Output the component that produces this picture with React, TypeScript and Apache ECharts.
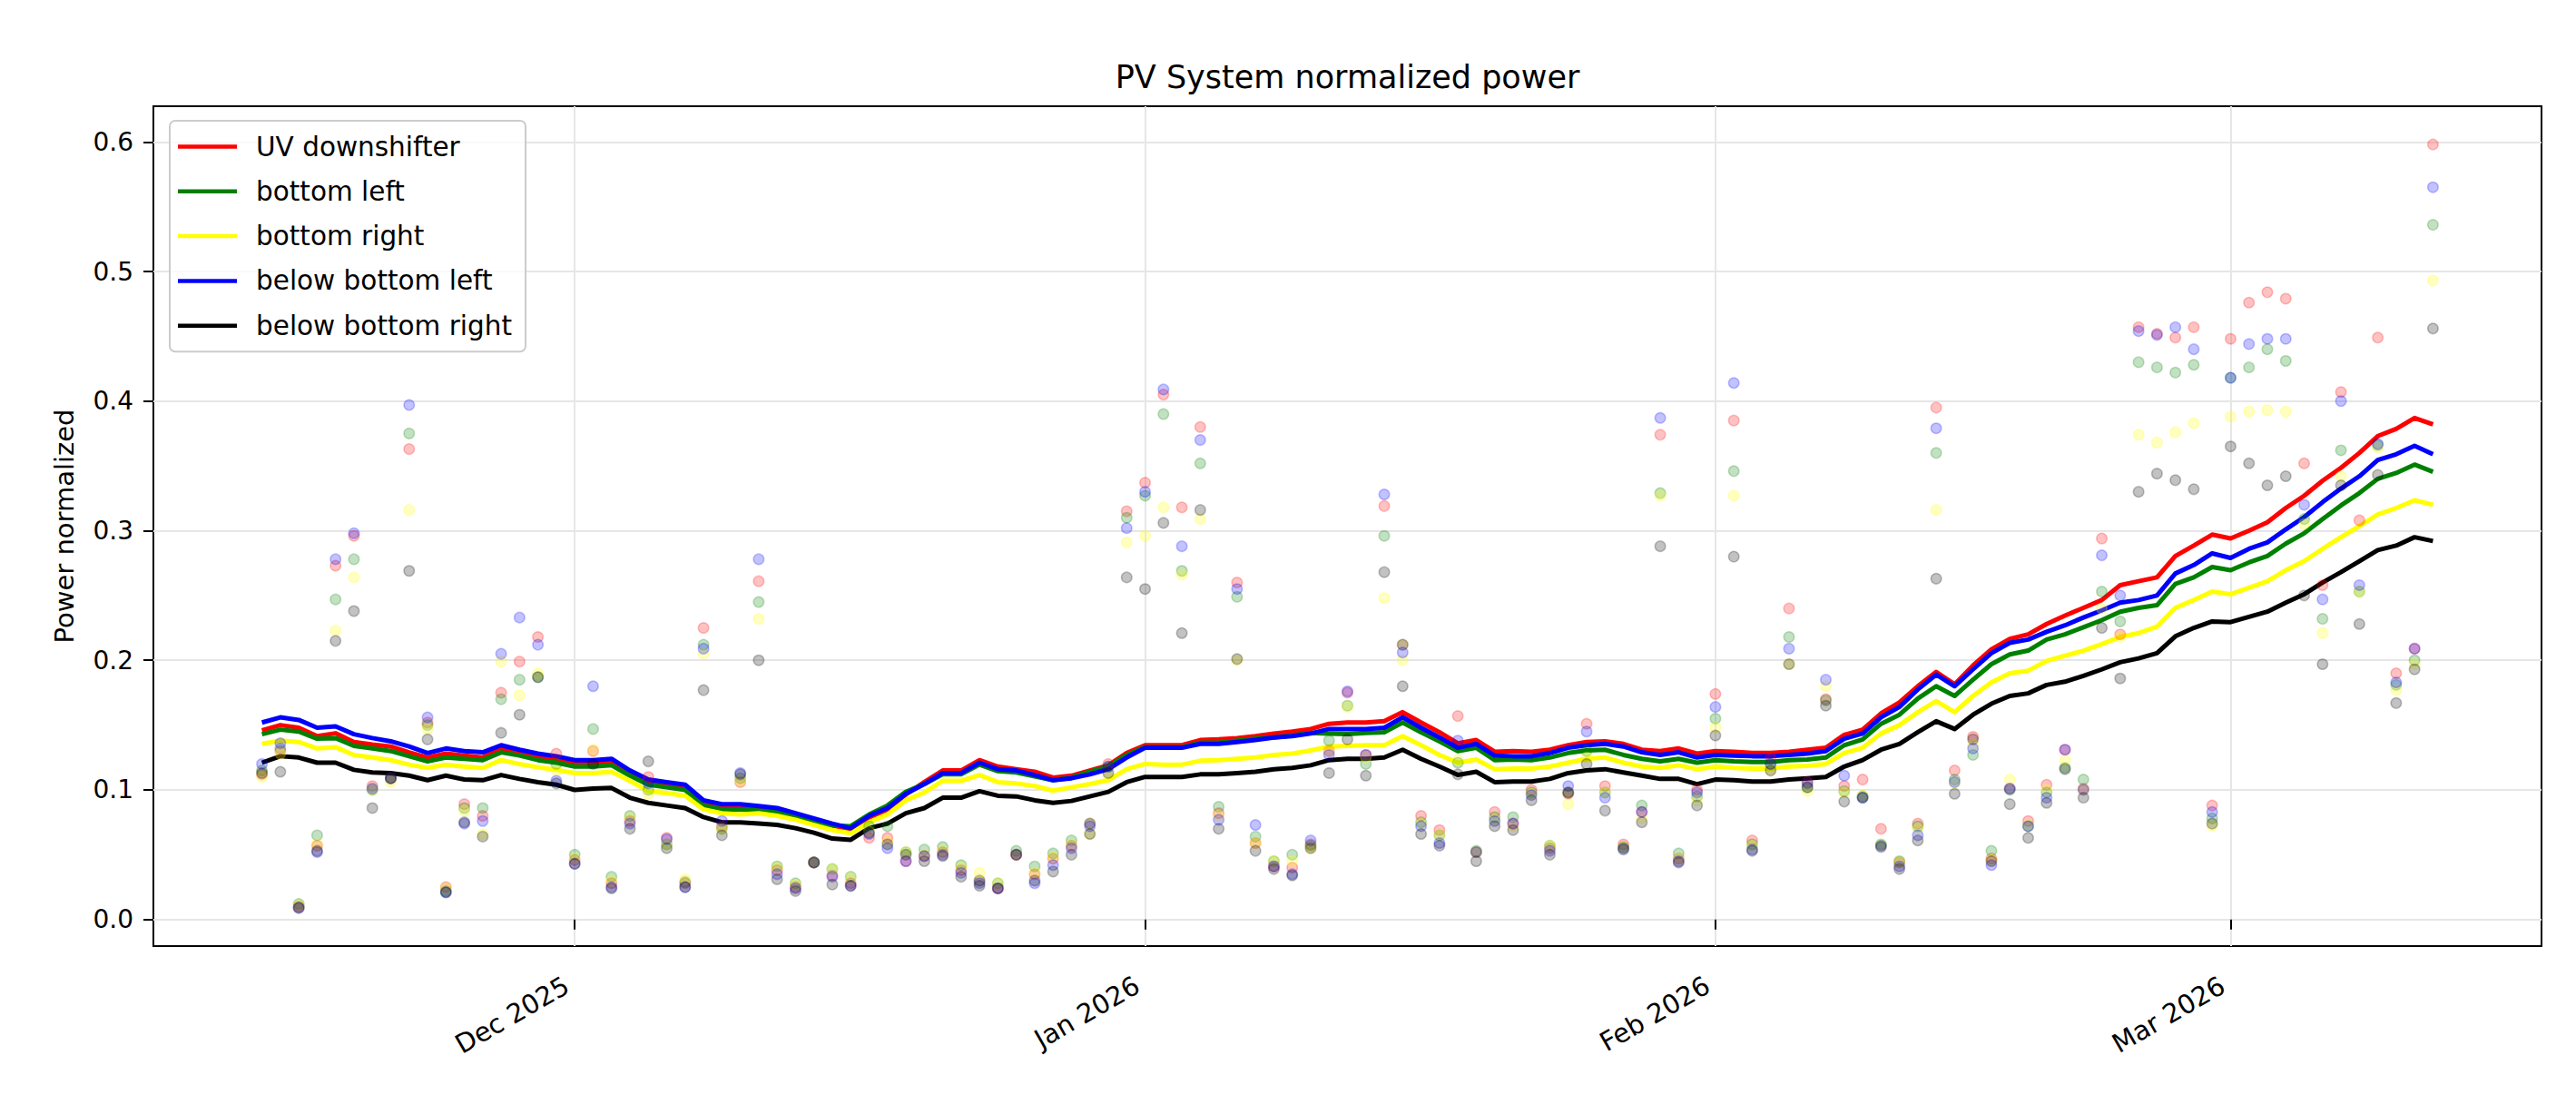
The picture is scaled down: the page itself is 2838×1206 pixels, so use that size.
import React, { useEffect, useRef } from "react";
import * as echarts from "echarts";

const FONT = '"DejaVu Sans", Verdana, sans-serif';

const SERIES_NAMES = ["UV downshifter", "bottom left", "bottom right", "below bottom left", "below bottom right"];
const SERIES_COLORS = ["#ff0000", "#008000", "#ffff00", "#0000ff", "#000000"];
const SCATTER_COLORS = ["rgba(255,0,0,0.3)", "rgba(0,128,0,0.3)", "rgba(255,255,0,0.3)", "rgba(0,0,255,0.3)", "rgba(0,0,0,0.3)"];

const TITLE = "PV System normalized power";
const Y_NAME = "Power normalized";

const X_TICK_LABELS = ["Dec 2025", "Jan 2026", "Feb 2026", "Mar 2026"];
const X_TICK_VALUES = [
  new Date(2025, 11, 1).getTime(),
  new Date(2026, 0, 1).getTime(),
  new Date(2026, 1, 1).getTime(),
  new Date(2026, 2, 1).getTime(),
];
const Y_TICK_VALUES = [0, 0.1, 0.2, 0.3, 0.4, 0.5, 0.6];
const Y_TICK_LABELS = ["0.0", "0.1", "0.2", "0.3", "0.4", "0.5", "0.6"];

// daily values, 2025-11-14 .. 2026-03-12
const RED_PTS = [
  0.112, 0.130, 0.010, 0.057, 0.273, 0.296, 0.103, 0.109, 0.363, 0.152,
  0.025, 0.089, 0.080, 0.175, 0.199, 0.218, 0.128, 0.046, 0.130, 0.028,
  0.076, 0.110, 0.063, 0.028, 0.225, 0.072, 0.106, 0.261, 0.038, 0.025,
  0.044, 0.034, 0.028, 0.063, 0.063, 0.045, 0.049, 0.052, 0.038, 0.030,
  0.024, 0.050, 0.035, 0.047, 0.057, 0.074, 0.120, 0.315, 0.337, 0.405,
  0.318, 0.380, 0.082, 0.260, 0.059, 0.041, 0.040, 0.058, 0.130, 0.175,
  0.127, 0.319, 0.212, 0.080, 0.069, 0.157, 0.052, 0.083, 0.074, 0.100,
  0.055, 0.097, 0.151, 0.103, 0.058, 0.083, 0.374, 0.047, 0.100, 0.174,
  0.385, 0.061, 0.125, 0.240, 0.106, 0.170, 0.103, 0.108, 0.070, 0.044,
  0.074, 0.395, 0.115, 0.141, 0.047, 0.101, 0.076, 0.104, 0.131, 0.101,
  0.294, 0.220, 0.457, 0.452, 0.449, 0.457, 0.088, 0.448, 0.476, 0.484,
  0.479, 0.352, 0.258, 0.407, 0.308, 0.449, 0.190, 0.209, 0.598,
];
const GREEN_PTS = [
  0.115, 0.132, 0.012, 0.065, 0.247, 0.278, 0.100, 0.109, 0.375, 0.150,
  0.022, 0.086, 0.086, 0.170, 0.185, 0.187, 0.120, 0.050, 0.147, 0.033,
  0.080, 0.100, 0.058, 0.029, 0.212, 0.070, 0.109, 0.245, 0.041, 0.028,
  0.044, 0.039, 0.033, 0.072, 0.072, 0.052, 0.054, 0.056, 0.042, 0.030,
  0.028, 0.053, 0.041, 0.051, 0.061, 0.074, 0.118, 0.310, 0.327, 0.390,
  0.269, 0.352, 0.087, 0.249, 0.064, 0.045, 0.050, 0.057, 0.138, 0.165,
  0.120, 0.296, 0.212, 0.075, 0.065, 0.121, 0.053, 0.079, 0.079, 0.098,
  0.057, 0.098, 0.130, 0.098, 0.056, 0.088, 0.329, 0.051, 0.095, 0.155,
  0.346, 0.058, 0.120, 0.218, 0.102, 0.169, 0.099, 0.095, 0.058, 0.045,
  0.072, 0.360, 0.108, 0.127, 0.053, 0.100, 0.072, 0.098, 0.117, 0.108,
  0.253, 0.230, 0.430, 0.426, 0.422, 0.428, 0.078, 0.418, 0.426, 0.440,
  0.431, 0.309, 0.232, 0.362, 0.253, 0.366, 0.181, 0.200, 0.536,
];
const YELLOW_PTS = [
  0.110, 0.128, 0.011, 0.058, 0.223, 0.264, 0.100, 0.106, 0.316, 0.147,
  0.024, 0.084, 0.066, 0.199, 0.173, 0.190, 0.115, 0.047, 0.131, 0.030,
  0.078, 0.097, 0.058, 0.031, 0.205, 0.070, 0.107, 0.232, 0.040, 0.027,
  0.044, 0.039, 0.032, 0.068, 0.060, 0.052, 0.050, 0.053, 0.040, 0.036,
  0.028, 0.050, 0.036, 0.048, 0.058, 0.066, 0.110, 0.291, 0.296, 0.318,
  0.266, 0.309, 0.080, 0.200, 0.059, 0.045, 0.045, 0.055, 0.130, 0.164,
  0.125, 0.248, 0.200, 0.074, 0.065, 0.123, 0.052, 0.077, 0.072, 0.097,
  0.057, 0.089, 0.125, 0.098, 0.056, 0.078, 0.327, 0.047, 0.092, 0.148,
  0.327, 0.057, 0.115, 0.197, 0.099, 0.180, 0.098, 0.096, 0.058, 0.044,
  0.070, 0.316, 0.105, 0.135, 0.046, 0.108, 0.073, 0.100, 0.123, 0.100,
  0.240, 0.218, 0.374, 0.368, 0.376, 0.383, 0.072, 0.388, 0.392, 0.393,
  0.392, 0.305, 0.221, 0.342, 0.253, 0.364, 0.177, 0.197, 0.493,
];
const BLUE_PTS = [
  0.120, 0.136, 0.009, 0.052, 0.278, 0.298, 0.101, 0.109, 0.397, 0.156,
  0.021, 0.074, 0.076, 0.205, 0.233, 0.212, 0.107, 0.043, 0.180, 0.025,
  0.074, 0.105, 0.062, 0.025, 0.209, 0.076, 0.113, 0.278, 0.035, 0.024,
  0.044, 0.033, 0.026, 0.066, 0.055, 0.045, 0.049, 0.050, 0.036, 0.028,
  0.024, 0.050, 0.028, 0.042, 0.055, 0.072, 0.118, 0.302, 0.330, 0.409,
  0.288, 0.370, 0.077, 0.255, 0.073, 0.041, 0.035, 0.061, 0.127, 0.176,
  0.127, 0.328, 0.206, 0.072, 0.059, 0.138, 0.052, 0.076, 0.074, 0.096,
  0.053, 0.103, 0.145, 0.094, 0.055, 0.083, 0.387, 0.045, 0.098, 0.164,
  0.414, 0.054, 0.120, 0.209, 0.105, 0.185, 0.111, 0.094, 0.057, 0.041,
  0.065, 0.379, 0.106, 0.132, 0.042, 0.101, 0.072, 0.094, 0.131, 0.100,
  0.281, 0.250, 0.454, 0.451, 0.457, 0.440, 0.083, 0.418, 0.444, 0.448,
  0.448, 0.320, 0.247, 0.400, 0.258, 0.367, 0.183, 0.209, 0.565,
];
const BLACK_PTS = [
  0.113, 0.114, 0.009, 0.053, 0.215, 0.238, 0.086, 0.109, 0.269, 0.139,
  0.021, 0.075, 0.064, 0.144, 0.158, 0.187, 0.105, 0.043, 0.120, 0.024,
  0.070, 0.122, 0.055, 0.025, 0.177, 0.065, 0.112, 0.200, 0.031, 0.022,
  0.044, 0.027, 0.026, 0.067, 0.058, 0.050, 0.045, 0.049, 0.033, 0.026,
  0.024, 0.050, 0.030, 0.037, 0.050, 0.066, 0.113, 0.264, 0.255, 0.306,
  0.221, 0.316, 0.070, 0.201, 0.053, 0.039, 0.034, 0.055, 0.113, 0.139,
  0.111, 0.268, 0.180, 0.066, 0.057, 0.112, 0.045, 0.072, 0.069, 0.092,
  0.050, 0.098, 0.120, 0.084, 0.054, 0.075, 0.288, 0.044, 0.088, 0.142,
  0.280, 0.053, 0.115, 0.197, 0.102, 0.165, 0.091, 0.094, 0.056, 0.039,
  0.061, 0.263, 0.097, 0.139, 0.045, 0.089, 0.063, 0.090, 0.116, 0.094,
  0.225, 0.186, 0.330, 0.344, 0.339, 0.332, 0.074, 0.365, 0.352, 0.335,
  0.342, 0.250, 0.197, 0.335, 0.228, 0.343, 0.167, 0.193, 0.456,
];

// smoothed lines, same dates
const RED_LINE = [
  0.146, 0.150, 0.148, 0.1415, 0.1437, 0.137, 0.135, 0.1335, 0.129, 0.125,
  0.128, 0.1265, 0.125, 0.132, 0.1285, 0.126, 0.124, 0.121, 0.121, 0.122,
  0.113, 0.106, 0.104, 0.1025, 0.090, 0.087, 0.087, 0.086, 0.085, 0.081,
  0.0765, 0.0725, 0.0695, 0.0785, 0.085, 0.0965, 0.106, 0.115, 0.115, 0.123,
  0.118, 0.116, 0.114, 0.1095, 0.111, 0.115, 0.119, 0.1285, 0.1345, 0.1345,
  0.1345, 0.1385, 0.139, 0.140, 0.1415, 0.1435, 0.145, 0.147, 0.151, 0.152,
  0.152, 0.153, 0.160, 0.152, 0.1445, 0.136, 0.1385, 0.1295, 0.130, 0.1295,
  0.131, 0.1345, 0.137, 0.1375, 0.1355, 0.131, 0.130, 0.132, 0.128, 0.130,
  0.1295, 0.1285, 0.1285, 0.1295, 0.131, 0.1325, 0.1425, 0.1465, 0.159, 0.1675,
  0.180, 0.191, 0.1815, 0.196, 0.2085, 0.2165, 0.220, 0.228, 0.2345, 0.2405,
  0.2465, 0.258, 0.261, 0.264, 0.2805, 0.2885, 0.297, 0.294, 0.300, 0.3065,
  0.3175, 0.327, 0.3385, 0.3485, 0.360, 0.373, 0.3785, 0.387, 0.382,
];
const GREEN_LINE = [
  0.143, 0.1465, 0.145, 0.1395, 0.140, 0.134, 0.132, 0.130, 0.126, 0.122,
  0.125, 0.124, 0.123, 0.129, 0.1265, 0.123, 0.121, 0.118, 0.118, 0.119,
  0.111, 0.104, 0.102, 0.100, 0.088, 0.085, 0.085, 0.084, 0.083, 0.080,
  0.0755, 0.0725, 0.072, 0.081, 0.088, 0.0985, 0.1045, 0.112, 0.112, 0.1195,
  0.1145, 0.1135, 0.1105, 0.1075, 0.1095, 0.114, 0.118, 0.127, 0.133, 0.133,
  0.133, 0.1365, 0.1365, 0.138, 0.1395, 0.1405, 0.142, 0.144, 0.1435, 0.143,
  0.144, 0.1445, 0.152, 0.1445, 0.1375, 0.130, 0.1325, 0.123, 0.1235, 0.123,
  0.125, 0.1285, 0.1305, 0.131, 0.127, 0.124, 0.122, 0.124, 0.121, 0.123,
  0.122, 0.1215, 0.1215, 0.123, 0.1235, 0.125, 0.1345, 0.139, 0.151, 0.158,
  0.1705, 0.180, 0.1725, 0.185, 0.197, 0.2045, 0.2075, 0.216, 0.220, 0.2255,
  0.231, 0.2375, 0.2405, 0.2425, 0.259, 0.264, 0.272, 0.2695, 0.2755, 0.2805,
  0.290, 0.298, 0.309, 0.3195, 0.329, 0.340, 0.3445, 0.351, 0.3455,
];
const YELLOW_LINE = [
  0.1355, 0.138, 0.137, 0.132, 0.133, 0.127, 0.125, 0.123, 0.1195, 0.117,
  0.1195, 0.118, 0.117, 0.123, 0.120, 0.1175, 0.1155, 0.113, 0.113, 0.114,
  0.107, 0.099, 0.0975, 0.0955, 0.085, 0.082, 0.081, 0.082, 0.080, 0.077,
  0.073, 0.069, 0.0665, 0.075, 0.081, 0.092, 0.098, 0.107, 0.107, 0.1115,
  0.106, 0.105, 0.103, 0.0995, 0.102, 0.1045, 0.1075, 0.116, 0.120, 0.1195,
  0.1195, 0.1225, 0.123, 0.124, 0.125, 0.127, 0.128, 0.1305, 0.1335, 0.134,
  0.1345, 0.1345, 0.1415, 0.1345, 0.127, 0.121, 0.1235, 0.116, 0.1165, 0.1165,
  0.118, 0.121, 0.124, 0.125, 0.121, 0.118, 0.117, 0.119, 0.116, 0.118,
  0.117, 0.1165, 0.1165, 0.118, 0.1185, 0.120, 0.1285, 0.1325, 0.1435, 0.150,
  0.160, 0.1685, 0.160, 0.1725, 0.183, 0.190, 0.192, 0.1995, 0.2035, 0.2075,
  0.2125, 0.218, 0.221, 0.226, 0.2405, 0.2465, 0.253, 0.251, 0.256, 0.261,
  0.2695, 0.2765, 0.286, 0.295, 0.3035, 0.3125, 0.3175, 0.3235, 0.320,
];
const BLUE_LINE = [
  0.152, 0.156, 0.154, 0.148, 0.149, 0.143, 0.140, 0.1375, 0.1335, 0.1285,
  0.132, 0.130, 0.129, 0.1345, 0.131, 0.128, 0.126, 0.123, 0.123, 0.124,
  0.115, 0.108, 0.106, 0.104, 0.092, 0.089, 0.089, 0.0875, 0.086, 0.082,
  0.078, 0.074, 0.0705, 0.080, 0.086, 0.097, 0.1045, 0.113, 0.113, 0.121,
  0.116, 0.115, 0.1115, 0.1075, 0.109, 0.112, 0.116, 0.125, 0.1325, 0.1325,
  0.1325, 0.1355, 0.1355, 0.137, 0.1385, 0.1405, 0.1415, 0.1435, 0.147, 0.147,
  0.147, 0.148, 0.156, 0.148, 0.1405, 0.1325, 0.1355, 0.1265, 0.126, 0.126,
  0.1285, 0.1325, 0.1345, 0.1355, 0.1335, 0.129, 0.127, 0.129, 0.125, 0.127,
  0.1265, 0.126, 0.126, 0.127, 0.128, 0.130, 0.1395, 0.1435, 0.156, 0.164,
  0.1775, 0.189, 0.180, 0.193, 0.2055, 0.2135, 0.216, 0.222, 0.227, 0.233,
  0.2385, 0.2445, 0.2465, 0.250, 0.267, 0.2735, 0.2825, 0.279, 0.286, 0.291,
  0.301, 0.3105, 0.322, 0.3325, 0.342, 0.3545, 0.359, 0.3655, 0.359,
];
const BLACK_LINE = [
  0.121, 0.126, 0.125, 0.121, 0.121, 0.1155, 0.1135, 0.113, 0.111, 0.1075,
  0.111, 0.108, 0.1075, 0.1115, 0.1085, 0.106, 0.104, 0.100, 0.101, 0.1015,
  0.094, 0.090, 0.088, 0.086, 0.079, 0.075, 0.075, 0.074, 0.073, 0.0705,
  0.067, 0.0625, 0.0615, 0.0705, 0.074, 0.082, 0.086, 0.094, 0.094, 0.099,
  0.0955, 0.095, 0.092, 0.090, 0.0915, 0.095, 0.0985, 0.106, 0.110, 0.110,
  0.110, 0.112, 0.112, 0.113, 0.114, 0.116, 0.117, 0.119, 0.123, 0.124,
  0.124, 0.125, 0.131, 0.124, 0.118, 0.1115, 0.114, 0.106, 0.1065, 0.1065,
  0.1085, 0.113, 0.115, 0.116, 0.1135, 0.111, 0.1085, 0.1085, 0.1045, 0.108,
  0.1075, 0.1065, 0.1065, 0.108, 0.109, 0.110, 0.118, 0.123, 0.131, 0.1355,
  0.1445, 0.153, 0.147, 0.158, 0.1665, 0.1725, 0.1745, 0.181, 0.1835, 0.188,
  0.193, 0.1985, 0.2015, 0.2055, 0.2185, 0.225, 0.230, 0.2295, 0.2335, 0.2375,
  0.2445, 0.251, 0.260, 0.268, 0.2765, 0.285, 0.2885, 0.295, 0.292,
];

const POINTS = [RED_PTS, GREEN_PTS, YELLOW_PTS, BLUE_PTS, BLACK_PTS];
const LINES = [RED_LINE, GREEN_LINE, YELLOW_LINE, BLUE_LINE, BLACK_LINE];

const DATES = RED_PTS.map((_, i) => new Date(2025, 10, 14 + i).getTime());
const DAY = 86400000;
const X_MIN = DATES[0] - 5.9 * DAY;
const X_MAX = DATES[DATES.length - 1] + 5.9 * DAY;

export default function App() {
  const ref = useRef<HTMLDivElement>(null);

  useEffect(() => {
    document.body.style.margin = "0";
    if (!ref.current) return;
    const chart = echarts.init(ref.current, undefined, { renderer: "svg" });

    const lineSeries = SERIES_NAMES.map((name, k) => ({
      name,
      type: "line",
      data: DATES.map((t, i) => [t, LINES[k][i]]),
      showSymbol: false,
      symbol: "none",
      color: SERIES_COLORS[k],
      lineStyle: { color: SERIES_COLORS[k], width: 5, join: "round" },
      silent: true,
      z: 2,
    }));
    const scatterSeries = SERIES_NAMES.map((name, k) => ({
      name: name + " (daily)",
      type: "scatter",
      data: DATES.map((t, i) => [t, POINTS[k][i]]),
      symbol: "circle",
      symbolSize: 11.5,
      itemStyle: { color: SCATTER_COLORS[k], borderColor: SCATTER_COLORS[k], borderWidth: 1.5 },
      silent: true,
      z: 3,
    }));

    chart.setOption({
      animation: false,
      backgroundColor: "#ffffff",
      textStyle: { fontFamily: FONT },
      grid: {
        left: 169,
        top: 117,
        right: 38,
        bottom: 164,
        show: true,
        borderColor: "#000000",
        borderWidth: 2,
        backgroundColor: "transparent",
        containLabel: false,
        outerBoundsMode: "none",
      },
      graphic: [
        {
          type: "text",
          x: 1484.5,
          y: 85,
          style: {
            text: TITLE,
            fontSize: 35,
            fontFamily: FONT,
            fill: "#000000",
            align: "center",
            verticalAlign: "middle",
            textAlign: "center",
            textVerticalAlign: "middle",
          },
        },
      ],
      legend: {
        data: SERIES_NAMES,
        orient: "vertical",
        left: 187,
        top: 133,
        itemWidth: 65,
        itemHeight: 4.5,
        itemGap: 19.3,
        icon: "rect",
        selectedMode: false,
        padding: [13.5, 15, 13.5, 9],
        backgroundColor: "rgba(255,255,255,0.8)",
        borderColor: "#cccccc",
        borderWidth: 2,
        borderRadius: 6,
        itemStyle: { borderWidth: 0 },
        textStyle: { fontSize: 29.5, fontFamily: FONT, color: "#000000", lineHeight: 30, padding: [0, 0, 0, 16] },
      },
      xAxis: {
        type: "value",
        min: X_MIN,
        max: X_MAX,
        scale: true,
        axisLine: { show: false },
        axisTick: { show: true, inside: false, length: 11, lineStyle: { color: "#000000", width: 2 }, customValues: X_TICK_VALUES },
        axisLabel: {
          customValues: X_TICK_VALUES,
          formatter: (v: number) => {
            const idx = X_TICK_VALUES.findIndex((t) => Math.abs(t - v) < 1000);
            return idx >= 0 ? X_TICK_LABELS[idx] : "";
          },
          rotate: 30,
          margin: 36,
          padding: [0, 10, 0, 0],
          fontSize: 29,
          color: "#000000",
          fontFamily: FONT,
        },
        splitLine: { show: true, lineStyle: { color: "#e6e6e6", width: 2 } },
        minorTick: { show: false },
      },
      yAxis: {
        type: "value",
        min: -0.0205,
        max: 0.6275,
        name: Y_NAME,
        nameLocation: "middle",
        nameGap: 84,
        nameRotate: 90,
        nameTextStyle: { fontSize: 29, fontFamily: FONT, color: "#000000" },
        axisLine: { show: false },
        axisTick: { show: true, inside: false, length: 11, lineStyle: { color: "#000000", width: 2 }, customValues: Y_TICK_VALUES },
        axisLabel: {
          customValues: Y_TICK_VALUES,
          formatter: (v: number) => {
            const idx = Y_TICK_VALUES.findIndex((t) => Math.abs(t - v) < 1e-9);
            return idx >= 0 ? Y_TICK_LABELS[idx] : "";
          },
          margin: 22,
          fontSize: 28,
          color: "#000000",
          fontFamily: FONT,
        },
        splitLine: { show: true, lineStyle: { color: "#e6e6e6", width: 2 } },
      },
      series: [...lineSeries, ...scatterSeries],
    });

    return () => chart.dispose();
  }, []);

  return (
    <div
      ref={ref}
      style={{ position: "fixed", left: 0, top: 0, width: 2838, height: 1206, background: "#ffffff" }}
    />
  );
}
